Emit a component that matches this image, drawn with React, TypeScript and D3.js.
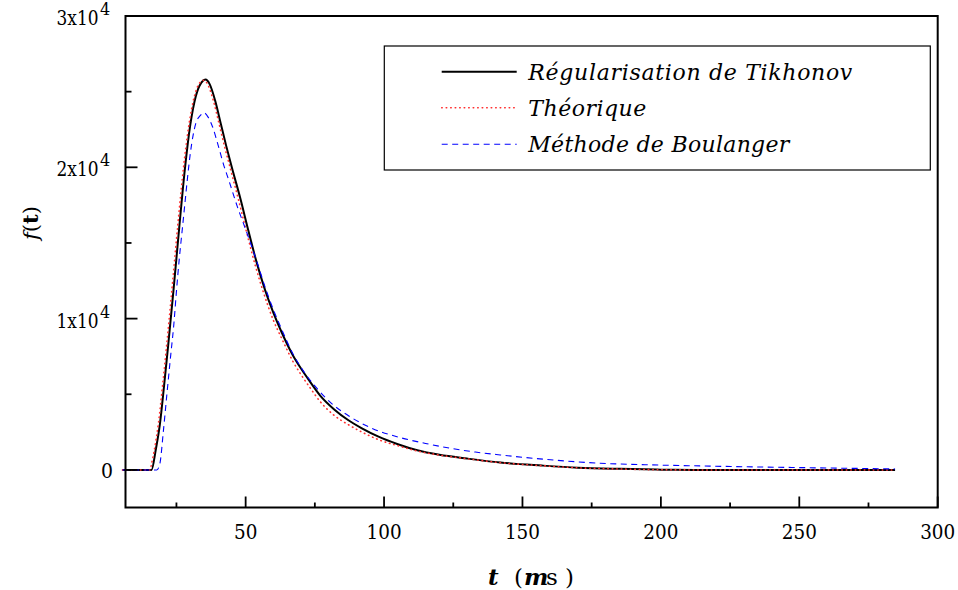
import React from "react";
import * as d3 from "d3";

const xTicksMajor = [50, 100, 150, 200, 250, 300];
const xTicksMinor = [25, 75, 125, 175, 225, 275];
const yTicksMajor = [0, 10000, 20000, 30000];
const yTickLabels = ["0", "1x10", "2x10", "3x10"];
const yTicksMinor = [5000, 15000, 25000];

const tikhonovT = [5.5, 16, 17.5, 19, 20.5, 22, 24, 26, 28, 30, 32, 34, 35.5, 37, 39, 41, 43, 45, 48, 51, 54, 57, 60, 63, 67, 70, 73, 77, 82, 87, 92, 98, 105, 112, 120, 130, 142, 157, 170, 185, 200, 212, 284.6];
const tikhonovV = [0, 0, 1300, 3000, 5500, 8200, 12000, 16000, 19800, 22800, 24700, 25600, 25800, 25500, 24400, 22900, 21400, 20000, 18000, 15800, 13700, 11900, 10400, 9100, 7600, 6700, 5900, 4900, 4000, 3300, 2750, 2200, 1700, 1300, 1000, 750, 490, 290, 150, 70, 20, 0, 0];

const theoT = [5.5, 15.5, 16, 17, 18.5, 20, 21.5, 23.5, 25.5, 27.5, 29.5, 31.5, 33.5, 35, 36.5, 38.5, 40.5, 42.5, 44.5, 47.5, 50.5, 53.5, 56.5, 60, 63, 67, 70, 73, 77, 82, 87, 92, 98, 105, 112, 120, 130, 142, 157, 170, 185, 200, 212, 284.6];
const theoV = [0, 0, 400, 1300, 3100, 5600, 8300, 12200, 16200, 19900, 22800, 24700, 25600, 25750, 25400, 24300, 22800, 21300, 19900, 17800, 15600, 13500, 11700, 9900, 8700, 7200, 6300, 5500, 4500, 3600, 3000, 2500, 2000, 1600, 1250, 980, 740, 480, 280, 140, 60, 10, 0, 0];

const boulT = [5.5, 17.9, 19, 20.3, 21.5, 23, 24, 25, 26, 27, 28, 29, 30, 31, 32, 33.5, 35, 36.5, 38, 40, 42, 44, 47, 50, 54, 57, 60, 63, 67, 71, 75.7, 81, 87.6, 95, 105.8, 115, 123.8, 133, 142, 157.5, 178, 195, 214, 250, 284.6];
const boulV = [0, 0, 400, 2600, 4900, 7700, 9500, 11800, 13900, 15700, 17500, 19300, 20900, 22100, 22900, 23400, 23600, 23300, 22700, 21500, 20200, 19100, 17400, 15900, 13800, 12100, 10600, 9300, 7700, 6500, 5400, 4400, 3530, 2800, 2140, 1750, 1435, 1180, 990, 710, 443, 340, 265, 155, 66];

const legendLabels = ["Régularisation de Tikhonov", "Théorique", "Méthode de Boulanger"];

const L = 125.5, R = 937.7, T = 16, B = 507.5;
const SERIF = "DejaVu Serif";

export default function App() {
  const x = d3.scaleLinear().domain([6.6, 300]).range([L, R]);
  const y = d3.scaleLinear().domain([-2483, 30000]).range([B, T]);
  const line = d3
    .line<[number, number]>()
    .x((d) => x(d[0]))
    .y((d) => y(d[1]))
    .curve(d3.curveMonotoneX);
  const zip = (a: number[], b: number[]) => a.map((t, i) => [t, b[i]] as [number, number]);

  const series = [
    { d: zip(tikhonovT, tikhonovV), stroke: "#000", w: 2, dash: undefined as string | undefined, cap: "butt" },
    { d: zip(theoT, theoV), stroke: "#ff3030", w: 1.6, dash: "0.5,4", cap: "round" },
    { d: zip(boulT, boulV), stroke: "#0000ff", w: 1.1, dash: "6,4.5", cap: "butt" },
  ];

  const legendY = [71.7, 107.7, 144.3];
  const legendLen = [324, 118, 261];

  return (
    <svg width={958} height={590} style={{ position: "absolute", left: 0, top: 0, background: "#fff" }}>
      <g fill="none">
        {series.map((s, i) => (
          <path key={i} d={line(s.d) || ""} stroke={s.stroke} strokeWidth={s.w} strokeDasharray={s.dash} strokeLinecap={s.cap as any} strokeLinejoin="round" />
        ))}
      </g>
      <rect x={L} y={T} width={R - L} height={B - T} fill="none" stroke="#000" strokeWidth={2} />
      {xTicksMajor.map((t) => (
        <line key={"xm" + t} x1={x(t)} x2={x(t)} y1={B} y2={B - 11} stroke="#000" strokeWidth={1.8} />
      ))}
      {xTicksMinor.map((t) => (
        <line key={"xn" + t} x1={x(t)} x2={x(t)} y1={B} y2={B - 5} stroke="#000" strokeWidth={1.8} />
      ))}
      {xTicksMajor.map((t) => (
        <text key={"xl" + t} x={x(t)} y={539} textAnchor="middle" fontFamily={SERIF} fontSize={20} textLength={String(t).length * 11.7} lengthAdjust="spacingAndGlyphs">
          {t}
        </text>
      ))}
      {yTicksMajor.map((v) => (
        <line key={"ym" + v} x1={L} x2={L + 12} y1={y(v)} y2={y(v)} stroke="#000" strokeWidth={1.8} />
      ))}
      {yTicksMinor.map((v) => (
        <line key={"yn" + v} x1={L} x2={L + 6} y1={y(v)} y2={y(v)} stroke="#000" strokeWidth={1.8} />
      ))}
      {yTicksMajor.map((v, i) =>
        i === 0 ? (
          <text key={"yl" + v} x={113} y={y(v) + 8} textAnchor="end" fontFamily={SERIF} fontSize={20} textLength={12} lengthAdjust="spacingAndGlyphs">
            {yTickLabels[i]}
          </text>
        ) : (
          <text key={"yl" + v} x={56.5} y={y(v) + 9} fontFamily={SERIF} fontSize={20}>
            <tspan textLength={42} lengthAdjust="spacingAndGlyphs">{yTickLabels[i]}</tspan>
            <tspan x={100} dy={-10} fontSize={16}>4</tspan>
          </text>
        )
      )}
      <text transform="translate(38,223) rotate(-90)" textAnchor="middle" fontFamily={SERIF} fontSize={21}>
        <tspan fontStyle="italic">f</tspan>
        <tspan>(</tspan>
        <tspan fontWeight="bold">t</tspan>
        <tspan>)</tspan>
      </text>
      <text y={585} fontFamily={SERIF} fontSize={23}>
        <tspan x={488} fontStyle="italic" fontWeight="bold">t</tspan>
        <tspan x={514}>(</tspan>
        <tspan x={524} fontStyle="italic" fontWeight="bold">m</tspan>
        <tspan x={546}>s</tspan>
        <tspan x={565}>)</tspan>
      </text>
      <rect x={384.3} y={46} width={546} height={124} fill="#fff" stroke="#000" strokeWidth={1.2} />
      {series.map((s, i) => (
        <g key={"lg" + i}>
          <line x1={441.7} x2={516.7} y1={legendY[i]} y2={legendY[i]} stroke={s.stroke} strokeWidth={s.w} strokeDasharray={s.dash} strokeLinecap={s.cap as any} />
          <text x={528.3} y={legendY[i] + 8} fontFamily={SERIF} fontStyle="italic" fontSize={22} textLength={legendLen[i]} lengthAdjust="spacing">
            {legendLabels[i]}
          </text>
        </g>
      ))}
    </svg>
  );
}
